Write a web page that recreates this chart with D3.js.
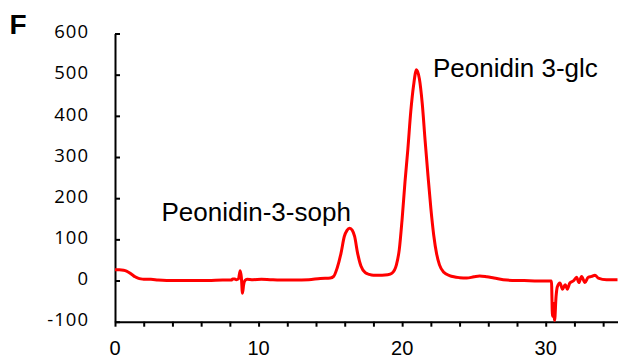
<!DOCTYPE html>
<html>
<head>
<meta charset="utf-8">
<script src="https://cdn.jsdelivr.net/npm/d3@7"></script>
<style>
  html, body { margin: 0; padding: 0; background: #fff; }
  svg { display: block; }
  text { font-family: "Liberation Sans", Arial, sans-serif; fill: #000; }
  .ylab { font-family: "Open Sans", "Liberation Sans", sans-serif; letter-spacing: 1px; }
</style>
</head>
<body>
<svg id="chart" width="629" height="363"></svg>
<script>
// Retention time (min) and detector signal of the chromatogram trace
const times = [
  0.0, 0.3, 0.6, 0.8, 1.0, 1.2, 1.4, 1.6, 1.8, 2.0, 2.5, 3.0, 3.6, 4.5, 5.5, 6.5, 7.5,
  8.1, 8.2, 8.35, 8.45, 8.6, 8.72, 8.8, 8.88, 8.96, 9.05, 9.2, 9.6, 10.2, 10.8, 11.5,
  12.5, 13.5, 14.3, 15.0, 15.23, 15.47, 15.74, 15.97, 16.16, 16.34, 16.53, 16.69, 16.9,
  17.13, 17.43, 17.7, 18.0, 18.6, 19.0, 19.3, 19.6, 19.8, 20.0, 20.2, 20.4, 20.6, 20.8,
  21.0, 21.2, 21.4, 21.6, 21.8, 22.0, 22.2, 22.4, 22.6, 22.9, 23.3, 23.6, 24.0, 24.5,
  25.0, 25.4, 25.9, 26.4, 27.3, 28.5, 29.5, 30.4, 30.47, 30.53, 30.62, 30.72, 30.81,
  30.99, 31.17, 31.36, 31.5, 31.68, 31.96, 32.15, 32.31, 32.5, 32.73, 32.96, 33.2,
  33.43, 33.66, 34.24, 35.0
];
const signal = [
  26, 26, 25, 23, 19, 14, 9, 6, 4, 3, 3, 1, 0, 0, 0, 0, 1,
  1, 4, 4, 2, 4, 24, 8, -31, -10, 0, 3, 2, 3, 2, 1,
  1, 2, 5, 6, 10, 30, 66, 107, 122, 127, 122, 107, 66,
  35, 19, 15, 13, 13, 14, 18, 38, 75, 150, 240, 320, 410, 475,
  512, 490, 430, 340, 255, 175, 110, 65, 38, 20, 12, 9, 7, 6,
  9, 11, 9, 6, 1, 0, -1, -1, -87, -55, -97, -39, -15,
  -6, -21, -10, -21, -6, 0, 8, -5, 10, -5, 8, 10,
  13, 6, 2, 2
];

// Axis ticks and labels
const yTicks = [-100, 0, 100, 200, 300, 400, 500, 600];
const xTicks = [0, 2, 4, 6, 8, 10, 12, 14, 16, 18, 20, 22, 24, 26, 28, 30, 32, 34];
const xLabels = [0, 10, 20, 30];

// Peak annotations
const peakNames = ["Peonidin-3-soph", "Peonidin 3-glc"];
const panelLetter = "F";

const svg = d3.select("#chart");
const plotLeft = 115, plotRight = 617.5, plotTop = 33.5, plotBottom = 321.7;

const x = d3.scaleLinear().domain([0, 35]).range([plotLeft, plotRight]);
const y = d3.scaleLinear().domain([-100, 600]).range([plotBottom, plotTop]);

// y axis: ticks pointing into the plot
const yAxis = svg.append("g").attr("transform", `translate(${plotLeft},0)`)
  .call(d3.axisLeft(y).tickValues(yTicks).tickSizeInner(-5).tickSizeOuter(0).tickPadding(0).tickFormat(() => ""));
yAxis.select(".domain").attr("stroke", "#000").attr("stroke-width", 2);
yAxis.selectAll(".tick line").attr("stroke", "#000").attr("stroke-width", 2);

svg.append("g").selectAll("text").data(yTicks).join("text")
  .attr("class", "ylab")
  .attr("x", 89).attr("y", d => y(d) - 2)
  .attr("dy", "0.36em")
  .attr("text-anchor", "end")
  .attr("font-size", 18.5)
  .text(d => d);

// x axis: ticks pointing outward
const xAxis = svg.append("g").attr("transform", `translate(0,${plotBottom})`)
  .call(d3.axisBottom(x).tickValues(xTicks).tickSizeInner(5).tickSizeOuter(0).tickFormat(() => ""));
xAxis.select(".domain").attr("stroke", "#000").attr("stroke-width", 2);
xAxis.selectAll(".tick line").attr("stroke", "#000").attr("stroke-width", 2);

svg.append("g").selectAll("text").data(xLabels).join("text")
  .attr("x", d => x(d)).attr("y", 355)
  .attr("text-anchor", "middle")
  .attr("font-size", 20)
  .text(d => d);

// chromatogram trace
const pts = times.map((t, i) => [t, signal[i]]);
svg.append("path")
  .datum(pts)
  .attr("fill", "none")
  .attr("stroke", "#ff0000")
  .attr("stroke-width", 3)
  .attr("stroke-linejoin", "round")
  .attr("d", d3.line().x(d => x(d[0])).y(d => y(d[1])).curve(d3.curveMonotoneX));

// peak labels
svg.append("text").attr("x", 161.5).attr("y", 221).attr("font-size", 26).text(peakNames[0]);
svg.append("text").attr("x", 433).attr("y", 77).attr("font-size", 26).text(peakNames[1]);

// panel letter
svg.append("text").attr("x", 9.5).attr("y", 33.5).attr("font-size", 28).attr("font-weight", "bold").text(panelLetter);
</script>
</body>
</html>
